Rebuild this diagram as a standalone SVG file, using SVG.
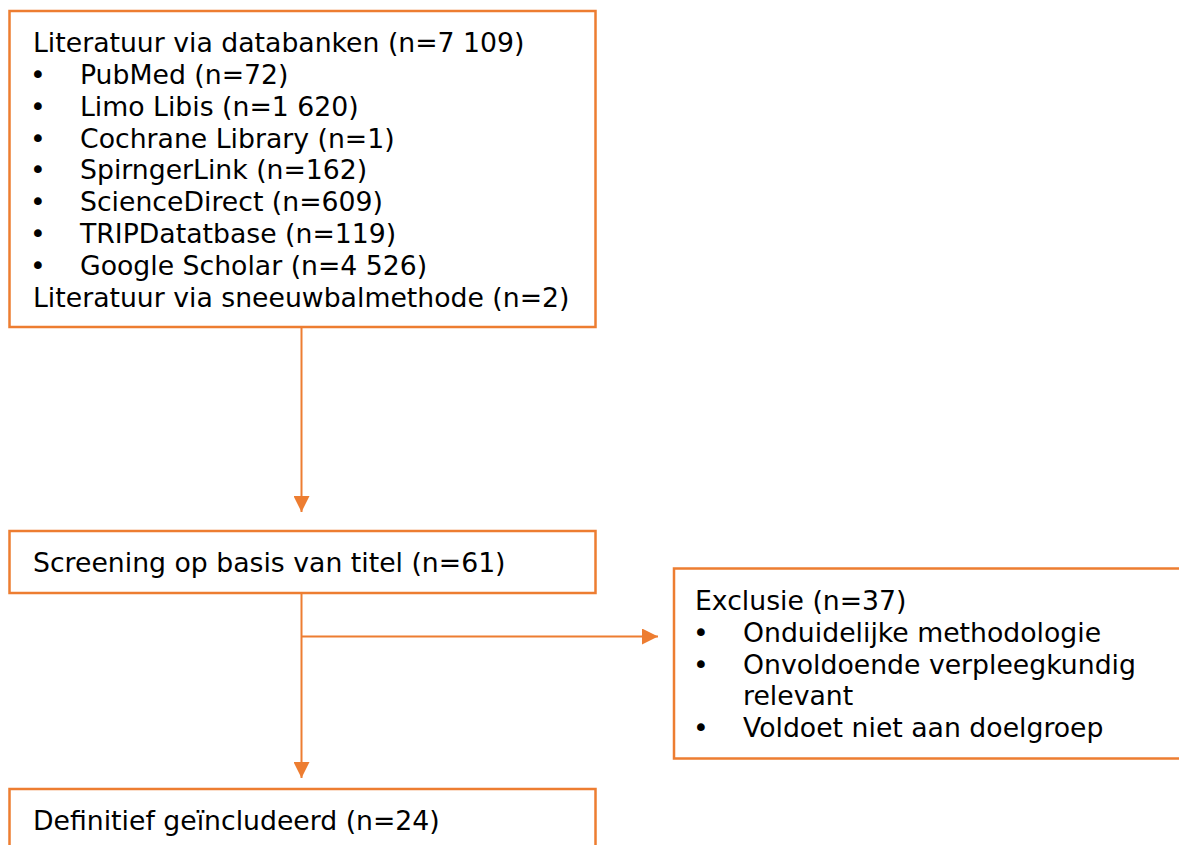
<svg xmlns="http://www.w3.org/2000/svg" width="1179" height="845" viewBox="0 0 1179 845">
<style>
.box{fill:#fff;stroke:#ED7D31;stroke-width:2.5}
.t{font-family:"DejaVu Sans","Verdana",sans-serif;font-size:26.7px;fill:#000}
.ln{stroke:#ED7D31;stroke-width:2;fill:none}
</style>
<defs>
<marker id="ah" viewBox="0 0 16 16" refX="16" refY="8" markerWidth="16" markerHeight="16" markerUnits="userSpaceOnUse" orient="auto">
<path d="M0,0 L16,8 L0,16 Z" fill="#ED7D31"/>
</marker>
</defs>
<rect width="1179" height="845" fill="#fff"/>
<g id="connectors">
<line class="ln" x1="301.5" y1="327" x2="301.5" y2="512" marker-end="url(#ah)"/>
<line class="ln" x1="301.5" y1="594" x2="301.5" y2="778" marker-end="url(#ah)"/>
<line class="ln" x1="301.5" y1="636.5" x2="658" y2="636.5" marker-end="url(#ah)"/>
</g>
<g id="literatuur">
<rect class="box" x="9.5" y="11" width="586" height="316"/>
<text class="t" x="33" y="52">Literatuur via databanken (n=7 109)</text>
<text class="t" x="30" y="83.5">•</text><text class="t" x="80" y="83.5">PubMed (n=72)</text>
<text class="t" x="30" y="115.5">•</text><text class="t" x="80" y="115.5">Limo Libis (n=1 620)</text>
<text class="t" x="30" y="147.5">•</text><text class="t" x="80" y="147.5">Cochrane Library (n=1)</text>
<text class="t" x="30" y="179">•</text><text class="t" x="80" y="179">SpirngerLink (n=162)</text>
<text class="t" x="30" y="211">•</text><text class="t" x="80" y="211">ScienceDirect (n=609)</text>
<text class="t" x="30" y="243">•</text><text class="t" x="80" y="243">TRIPDatatbase (n=119)</text>
<text class="t" x="30" y="275">•</text><text class="t" x="80" y="275">Google Scholar (n=4 526)</text>
<text class="t" x="33" y="307">Literatuur via sneeuwbalmethode (n=2)</text>
</g>
<g id="screening">
<rect class="box" x="9.5" y="531" width="586" height="62"/>
<text class="t" x="33" y="572">Screening op basis van titel (n=61)</text>
</g>
<g id="exclusie">
<rect class="box" x="674" y="568.5" width="520" height="190"/>
<text class="t" x="695" y="610">Exclusie (n=37)</text>
<text class="t" x="693" y="642">•</text><text class="t" x="743" y="642">Onduidelijke methodologie</text>
<text class="t" x="693" y="674">•</text><text class="t" x="743" y="674">Onvoldoende verpleegkundig</text>
<text class="t" x="743" y="705">relevant</text>
<text class="t" x="693" y="737">•</text><text class="t" x="743" y="737">Voldoet niet aan doelgroep</text>
</g>
<g id="definitief">
<rect class="box" x="9.5" y="789" width="586" height="80"/>
<text class="t" x="33" y="830">Definitief geïncludeerd (n=24)</text>
</g>
</svg>
